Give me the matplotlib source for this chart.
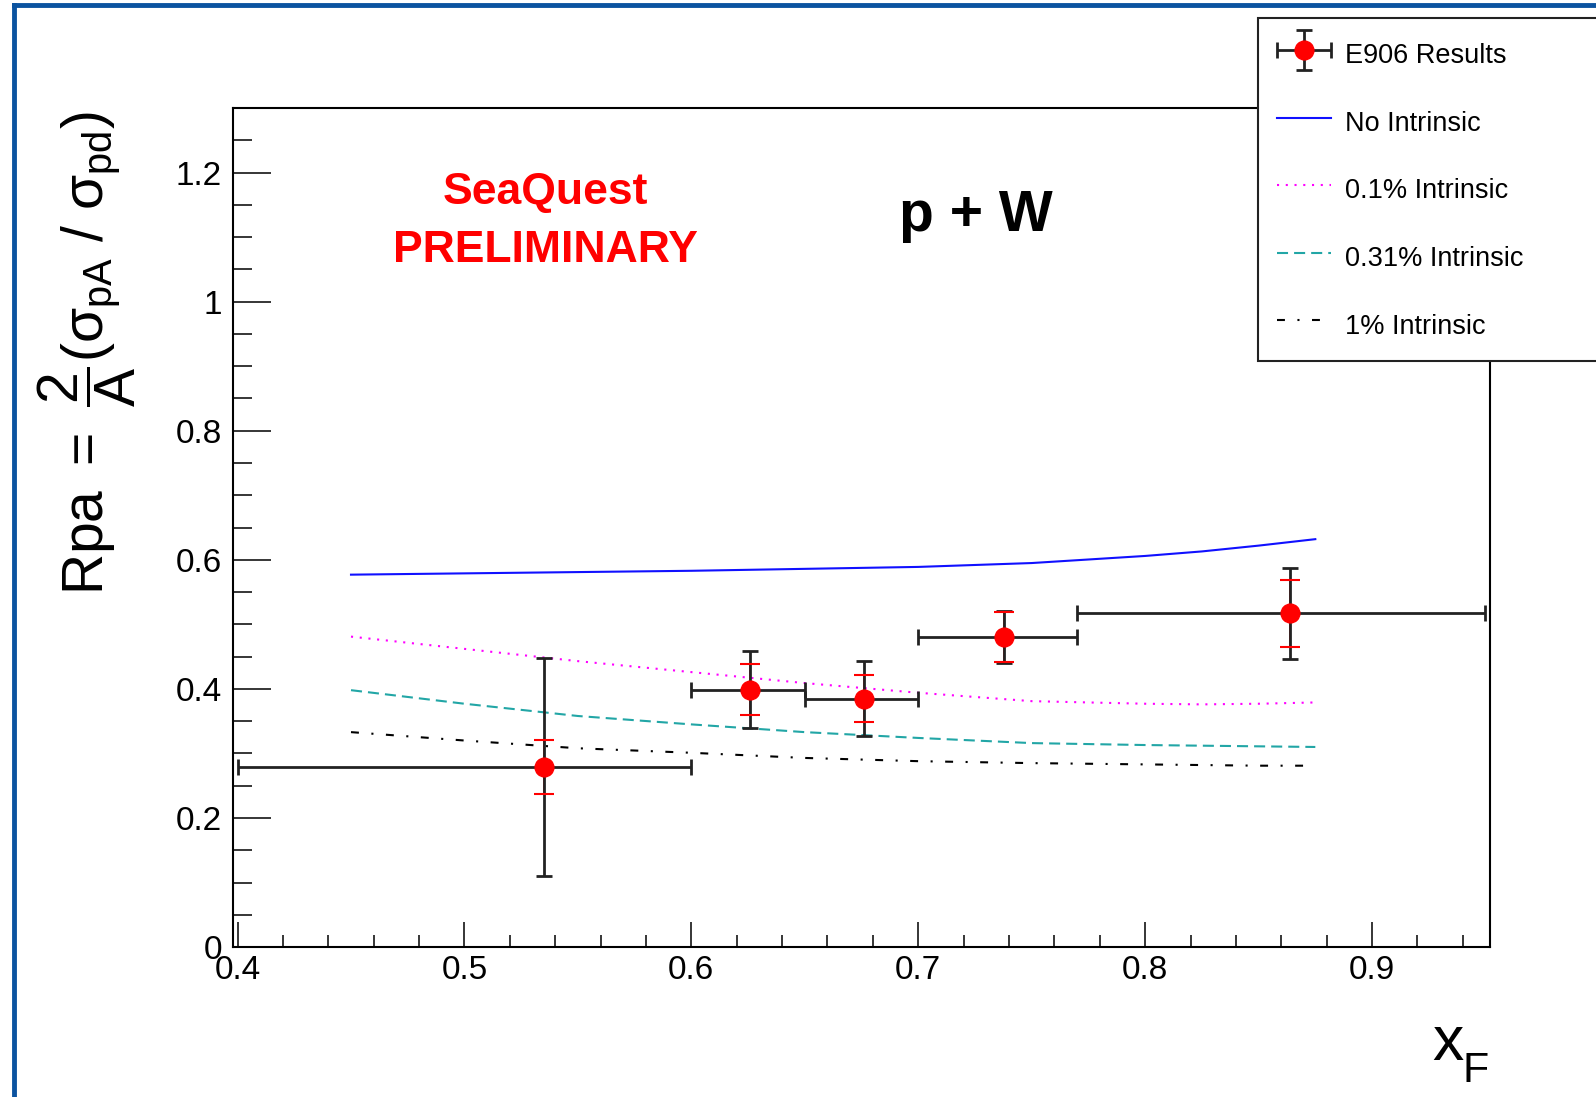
import numpy as np
import matplotlib
matplotlib.use('Agg')
import matplotlib.pyplot as plt
from matplotlib.lines import Line2D
from matplotlib.legend_handler import HandlerErrorbar
from matplotlib.ticker import MultipleLocator, FuncFormatter

plt.rcParams['font.family'] = ['Liberation Sans', 'DejaVu Sans']
plt.rcParams['mathtext.fontset'] = 'custom'
plt.rcParams['mathtext.rm'] = 'Liberation Sans'
plt.rcParams['mathtext.it'] = 'Liberation Sans'
plt.rcParams['mathtext.sf'] = 'Liberation Sans'
plt.rcParams['mathtext.bf'] = 'Liberation Sans:bold'

##################################################################################
# data ###########################################################################
##################################################################################

# E906 / SeaQuest points, p + W
xf = np.array([0.535, 0.626, 0.676, 0.738, 0.864])
xf_lo = np.array([0.40, 0.60, 0.65, 0.70, 0.77])
xf_hi = np.array([0.60, 0.65, 0.70, 0.77, 0.95])
rpa = np.array([0.279, 0.399, 0.385, 0.480, 0.517])
err_tot = np.array([0.169, 0.059, 0.058, 0.040, 0.070])
err_stat = np.array([0.042, 0.040, 0.036, 0.039, 0.052])

# model curves
x_curve = np.array([0.45, 0.50, 0.55, 0.60, 0.65, 0.70, 0.75, 0.80, 0.825, 0.85, 0.875])
no_intrinsic = np.array([0.577, 0.579, 0.581, 0.583, 0.586, 0.589, 0.595, 0.606, 0.613, 0.622, 0.632])
intr_01 = np.array([0.481, 0.462, 0.443, 0.426, 0.409, 0.394, 0.381, 0.377, 0.376, 0.377, 0.379])
intr_031 = np.array([0.398, 0.377, 0.358, 0.345, 0.333, 0.324, 0.316, 0.313, 0.312, 0.311, 0.310])
intr_1 = np.array([0.333, 0.320, 0.308, 0.301, 0.293, 0.288, 0.285, 0.283, 0.282, 0.281, 0.281])

labels = ['E906 Results', 'No Intrinsic', '0.1% Intrinsic', '0.31% Intrinsic', '1% Intrinsic']

##################################################################################
# plot ###########################################################################
##################################################################################

fig = plt.figure(figsize=(15.96, 10.97), dpi=100)
ax = fig.add_axes([0.146, 0.1367, 0.7876, 0.7648])

lw = 1.5
l_no, = ax.plot(x_curve, no_intrinsic, color='#1010ff', lw=lw, zorder=2)
l_01, = ax.plot(x_curve, intr_01, color='#ff00ff', lw=lw, ls=(0, (1, 3.2)), zorder=2)
l_031, = ax.plot(x_curve, intr_031, color='#22a6a6', lw=lw, ls=(0, (5.3, 2.9)), zorder=2)
l_1, = ax.plot(x_curve, intr_1, color='black', lw=lw, ls=(0, (3.8, 6, 1, 6)), zorder=2)

# statistical errors (red caps)
eb_stat = ax.errorbar(xf, rpa, yerr=err_stat, fmt='none', ecolor='red',
                      elinewidth=1.2, capsize=7, capthick=1.5, zorder=3)
# total errors + bins
eb = ax.errorbar(xf, rpa, xerr=[xf - xf_lo, xf_hi - xf], yerr=err_tot, fmt='o',
                 color='black', mfc='red', mec='red', ms=13.5,
                 ecolor='#222222', elinewidth=2, capsize=6, capthick=2, zorder=4)
for c in eb_stat[1]:
    c.set_zorder(5)
eb[0].set_zorder(6)

ax.set_xlim(0.398, 0.952)
ax.set_ylim(0, 1.3)

ax.xaxis.set_major_locator(MultipleLocator(0.1))
ax.xaxis.set_minor_locator(MultipleLocator(0.02))
ax.yaxis.set_major_locator(MultipleLocator(0.2))
ax.yaxis.set_minor_locator(MultipleLocator(0.05))
ax.yaxis.set_major_formatter(FuncFormatter(lambda v, p: '%g' % round(v, 2)))
ax.xaxis.set_major_formatter(FuncFormatter(lambda v, p: '%g' % round(v, 2)))

ax.tick_params(axis='both', which='both', direction='in', width=1.1, labelsize=24)
ax.tick_params(axis='y', which='major', length=27, pad=8)
ax.tick_params(axis='y', which='minor', length=13.7)
ax.tick_params(axis='x', which='major', length=18, pad=6)
ax.tick_params(axis='x', which='minor', length=8.6)
for s in ax.spines.values():
    s.set_linewidth(1.5)

# labels
fig.text(0.054, 0.678, r'$\mathrm{Rpa}\ =\ \dfrac{2}{A}(\sigma_{pA}\ /\ \sigma_{pd})$',
         rotation=90, ha='center', va='center', fontsize=41)
fig.text(1432 / 1596, 1 - 1060 / 1097, 'x', ha='left', va='baseline', fontsize=45)
fig.text(1462 / 1596, 1 - 1082 / 1097, 'F', ha='left', va='baseline', fontsize=31)

ax.text(0.5356, 1.169, 'SeaQuest', color='red', fontsize=32, fontweight='bold',
        ha='center', va='center')
ax.text(0.5356, 1.080, 'PRELIMINARY', color='red', fontsize=32, fontweight='bold',
        ha='center', va='center')
ax.text(0.7252, 1.132, 'p + W', color='black', fontsize=41, fontweight='bold',
        ha='center', va='center')

# legend, runs off the right edge like the original
leg = ax.legend([eb, l_no, l_01, l_031, l_1], labels,
                loc='upper left', mode='expand',
                bbox_to_anchor=(1258 / 1596, 0, 400 / 1596, 1 - 18 / 1097),
                bbox_transform=fig.transFigure, fontsize=19.5,
                fancybox=False, framealpha=1, edgecolor='#222222',
                handlelength=2.0, handleheight=1.6, handletextpad=0.5,
                labelspacing=1.21, borderpad=0.7, borderaxespad=0,
                handler_map={eb: HandlerErrorbar(xerr_size=1.0, yerr_size=0.75)})
leg.get_frame().set_linewidth(1.5)

# slide frame (blue border left/top)
fig.add_artist(Line2D([14 / 1596, 14 / 1596], [0, 1 - 5 / 1097], color='#0b53a0', lw=3.5))
fig.add_artist(Line2D([14 / 1596, 1], [1 - 5 / 1097, 1 - 5 / 1097], color='#0b53a0', lw=3.5))

fig.savefig('out.png', dpi=100)
